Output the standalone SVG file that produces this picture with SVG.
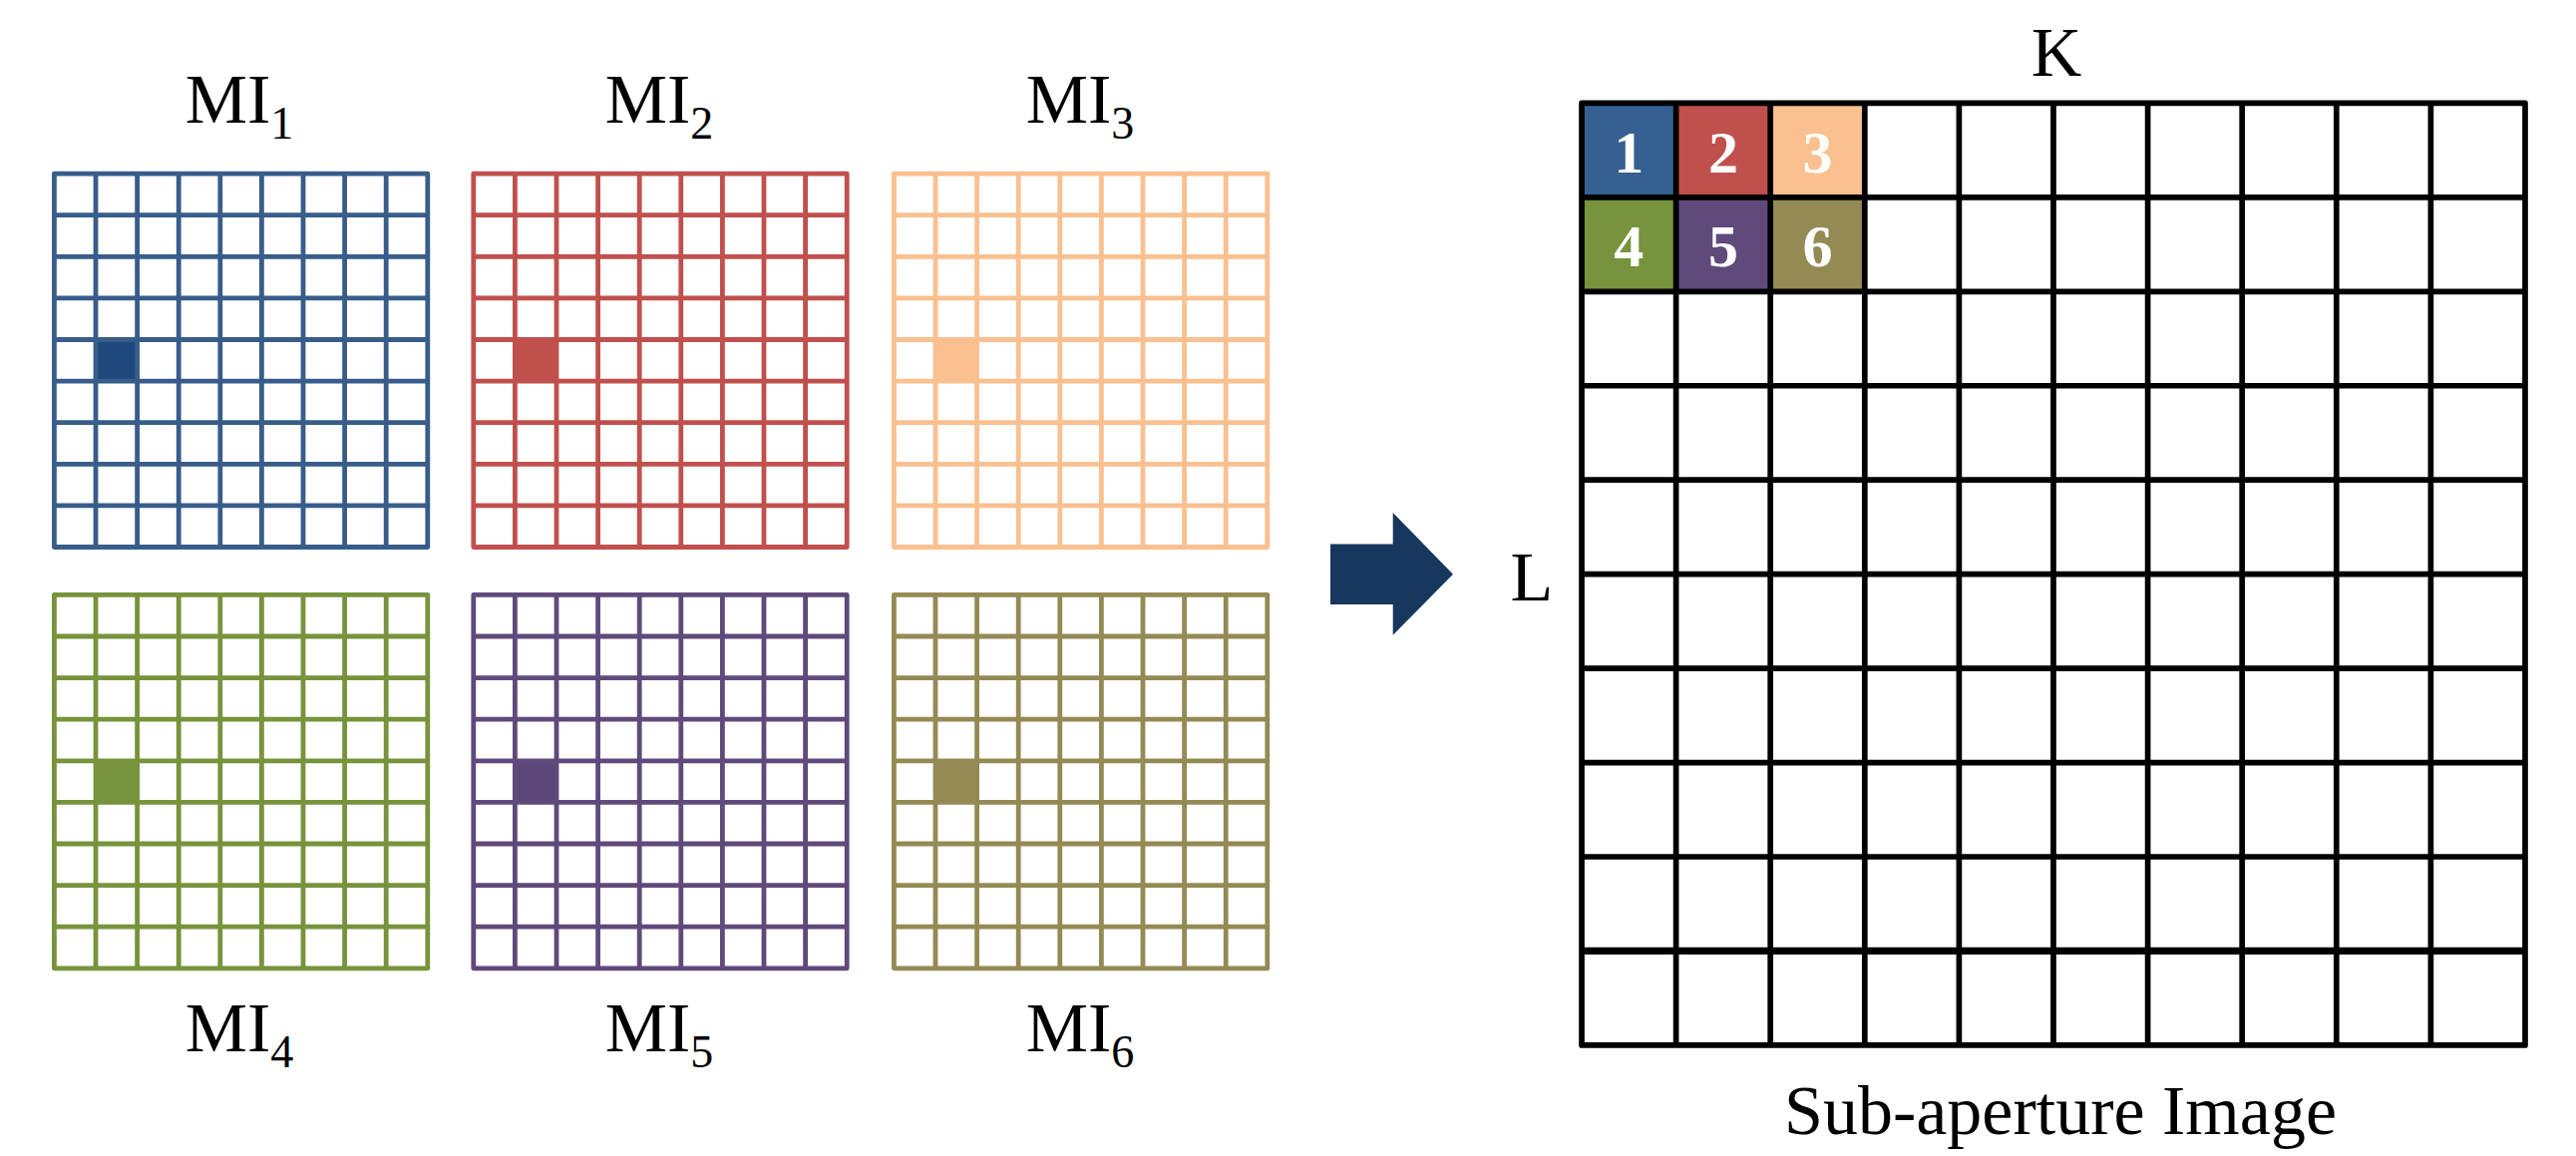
<svg xmlns="http://www.w3.org/2000/svg" xmlns:xlink="http://www.w3.org/1999/xlink" width="2583" height="1159" viewBox="0 0 2583 1159">
  <style>
    .lbl { font-family: "Liberation Serif", "Times New Roman", serif; font-size: 70px; fill: #000; }
    .sub { font-size: 46px; }
    .num { font-family: "Liberation Serif", "Times New Roman", serif; font-size: 60px; font-weight: bold; fill: #fff; text-anchor: middle; }
    .mi { fill: none; stroke-width: 4.8; stroke-linejoin: round; }
    .big { fill: none; stroke: #000; stroke-width: 5.7; stroke-linejoin: round; }
  </style>
  <defs>
    <path id="grid9" d="M0,0H374.4V374.4H0Z M41.6,0V374.4 M83.2,0V374.4 M124.8,0V374.4 M166.4,0V374.4 M208,0V374.4 M249.6,0V374.4 M291.2,0V374.4 M332.8,0V374.4 M0,41.6H374.4 M0,83.2H374.4 M0,124.8H374.4 M0,166.4H374.4 M0,208H374.4 M0,249.6H374.4 M0,291.2H374.4 M0,332.8H374.4"/>
  </defs>
  <rect width="2583" height="1159" fill="#fff"/>

  <g id="mi1">
    <rect x="96" y="340.5" width="41.6" height="41.6" fill="#1F497D"/>
    <use xlink:href="#grid9" href="#grid9" x="54.4" y="174.1" class="mi" stroke="#385D8A"/>
    <text class="lbl" x="240" y="123" text-anchor="middle">MI<tspan class="sub" dy="16">1</tspan></text>
  </g>
  <g id="mi2">
    <rect x="516.4" y="340.5" width="41.6" height="41.6" fill="#C0504D"/>
    <use xlink:href="#grid9" href="#grid9" x="474.8" y="174.1" class="mi" stroke="#C0504D"/>
    <text class="lbl" x="661" y="123" text-anchor="middle">MI<tspan class="sub" dy="16">2</tspan></text>
  </g>
  <g id="mi3">
    <rect x="938" y="340.5" width="41.6" height="41.6" fill="#FAC090"/>
    <use xlink:href="#grid9" href="#grid9" x="896.4" y="174.1" class="mi" stroke="#FAC090"/>
    <text class="lbl" x="1083" y="123" text-anchor="middle">MI<tspan class="sub" dy="16">3</tspan></text>
  </g>
  <g id="mi4">
    <rect x="96" y="762.8" width="41.6" height="41.6" fill="#77933C"/>
    <use xlink:href="#grid9" href="#grid9" x="54.4" y="596.4" class="mi" stroke="#77933C"/>
    <text class="lbl" x="240" y="1054" text-anchor="middle">MI<tspan class="sub" dy="16">4</tspan></text>
  </g>
  <g id="mi5">
    <rect x="516.4" y="762.8" width="41.6" height="41.6" fill="#5C4778"/>
    <use xlink:href="#grid9" href="#grid9" x="474.8" y="596.4" class="mi" stroke="#604A7B"/>
    <text class="lbl" x="661" y="1054" text-anchor="middle">MI<tspan class="sub" dy="16">5</tspan></text>
  </g>
  <g id="mi6">
    <rect x="938" y="762.8" width="41.6" height="41.6" fill="#948A54"/>
    <use xlink:href="#grid9" href="#grid9" x="896.4" y="596.4" class="mi" stroke="#948A54"/>
    <text class="lbl" x="1083" y="1054" text-anchor="middle">MI<tspan class="sub" dy="16">6</tspan></text>
  </g>

  <g id="connectors">
    <polygon points="1334,545.5 1396.7,545.5 1396.7,514 1457,575.7 1396.7,636.7 1396.7,606 1334,606" fill="#17375E"/>
  </g>

  <g id="sub-aperture">
    <rect x="1586" y="103.4" width="94.6" height="94.45" fill="#376092"/>
    <rect x="1680.6" y="103.4" width="94.6" height="94.45" fill="#C0504D"/>
    <rect x="1775.2" y="103.4" width="94.6" height="94.45" fill="#FAC090"/>
    <rect x="1586" y="197.85" width="94.6" height="94.45" fill="#77933C"/>
    <rect x="1680.6" y="197.85" width="94.6" height="94.45" fill="#604A7B"/>
    <rect x="1775.2" y="197.85" width="94.6" height="94.45" fill="#948A54"/>
    <path class="big" d="M1586,103.4H2532V1047.9H1586Z M1680.6,103.4V1047.9 M1775.2,103.4V1047.9 M1869.8,103.4V1047.9 M1964.4,103.4V1047.9 M2059,103.4V1047.9 M2153.6,103.4V1047.9 M2248.2,103.4V1047.9 M2342.8,103.4V1047.9 M2437.4,103.4V1047.9 M1586,197.85H2532 M1586,292.3H2532 M1586,386.75H2532 M1586,481.2H2532 M1586,575.65H2532 M1586,670.1H2532 M1586,764.55H2532 M1586,859H2532"/>
    <path d="M1586,953.45H2532" fill="none" stroke="#000" stroke-width="7.3"/>
    <text class="num" x="1633.3" y="172.7">1</text>
    <text class="num" x="1727.9" y="172.7">2</text>
    <text class="num" x="1822.5" y="172.7">3</text>
    <text class="num" x="1633.3" y="266.7">4</text>
    <text class="num" x="1727.9" y="266.7">5</text>
    <text class="num" x="1822.5" y="266.7">6</text>
    <text class="lbl" x="2062" y="76" text-anchor="middle">K</text>
    <text class="lbl" x="1536" y="602" text-anchor="middle">L</text>
    <text class="lbl" x="2066" y="1137" text-anchor="middle">Sub-aperture Image</text>
  </g>
</svg>
